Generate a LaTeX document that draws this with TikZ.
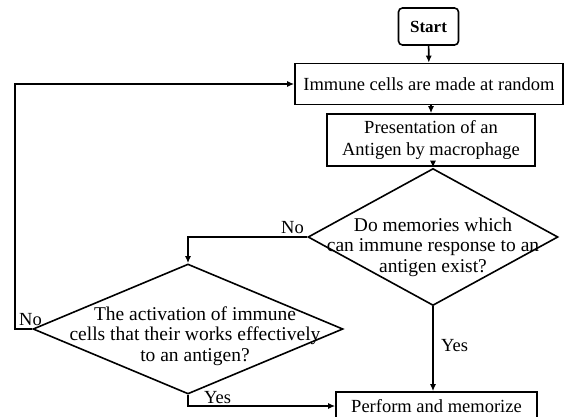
\documentclass[tikz,border=0pt]{standalone}
\usepackage{fontspec}
\setmainfont{Liberation Serif}
\usetikzlibrary{shapes.geometric,arrows.meta}
\begin{document}
\begin{tikzpicture}[x=1pt,y=-1pt,
  every node/.style={font=\fontsize{18.5}{21}\selectfont, inner sep=0pt},
  box/.style={draw, line width=1.6pt, rectangle, align=center},
  diabox/.style={draw, line width=1.6pt, diamond},
  txt/.style={align=center, font=\fontsize{19.5}{20.5}\selectfont},
  conn/.style={line width=1.6pt, -{Latex[length=7pt,width=6pt]}},
  lbl/.style={font=\fontsize{18.5}{20}\selectfont}]
\useasboundingbox (0,0) rectangle (567,416);
\node[box, rounded corners=4pt, minimum width=60pt, minimum height=37pt,
      font=\fontsize{17}{19}\selectfont\bfseries] (start) at (428.5,26.5) {Start};
\node[box, minimum width=268pt, minimum height=41pt] (imm) at (429,84) {Immune cells are made at random};
\node[box, minimum width=208pt, minimum height=52pt, font=\fontsize{18.5}{22}\selectfont] (pres) at (431,140) {Presentation of an\\Antigen by macrophage};
\node[diabox, minimum width=250pt, minimum height=137pt] (d1) at (433,237) {};
\node[txt] (d1t) at (433,247) {Do memories which\\can immune response to an\\antigen exist?};
\node[diabox, minimum width=310pt, minimum height=130pt] (d2) at (188,329) {};
\node[txt] (d2t) at (195,336) {The activation of immune\\cells that their works effectively\\to an antigen?};
\node[box, minimum width=201pt, minimum height=28pt] (perf) at (436.5,406) {Perform and memorize};
\coordinate (lp) at (15,329);
\draw[conn] (start) -- (imm);
\draw[conn] (imm.south -| pres.north) -- (pres.north);
\draw[conn] (pres.south -| d1.north) -- (d1.north);
\draw[conn] (d1.west) -| (d2.north);
\draw[conn] (d1.south) -- (d1.south |- perf.north);
\draw[conn] (d2.south) |- (perf.west);
\draw[conn] (d2.west) -- (lp) |- (imm.west);
\node[lbl, anchor=base east] (no1) at (304,233) {No};
\node[lbl, anchor=base west] (yes1) at (441,351) {Yes};
\node[lbl, anchor=base west] (no2) at (19,325) {No};
\node[lbl, anchor=base west] (yes2) at (204,403) {Yes};
\end{tikzpicture}
\end{document}
